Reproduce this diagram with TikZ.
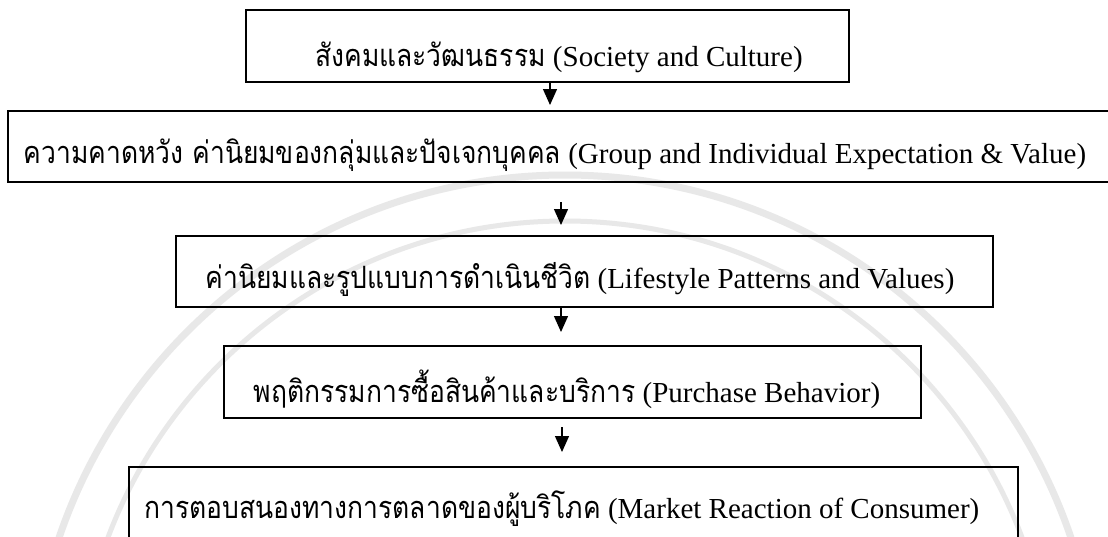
\documentclass[tikz,border=0pt]{standalone}
\usepackage{fontspec}
\setmainfont{Liberation Serif}
\newfontfamily\thaifont[Script=Thai,Scale=1.06,FakeStretch=0.86]{Loma}
\usetikzlibrary{arrows.meta}
\begin{document}
\begin{tikzpicture}[x=1pt,y=-1pt,
  box/.style={draw, line width=1.7pt, inner sep=0pt},
  lbl/.style={inner sep=0pt, anchor=base, font=\fontsize{29}{34}\selectfont},
  arr/.style={line width=1.3pt, -{Triangle[length=16pt,width=14pt]}},
  wmark/.style={draw=black!9, line width=7pt}]
\useasboundingbox (0,0) rectangle (1108,536);
\fill[white] (0,0) rectangle (1108,536);
\clip (0,0) rectangle (1108,536);
% faint watermark rings
\draw[wmark] (565,709) circle[radius=534];
\draw[wmark, line width=5pt] (565,709) circle[radius=488];
% boxes
\node[box, minimum width=603pt, minimum height=72pt] (b1) at (547.5,46) {};
\node[box, minimum width=1122pt, minimum height=71pt] (b2) at (569,146.5) {};
\node[box, minimum width=817pt, minimum height=71pt] (b3) at (584.5,271.5) {};
\node[box, minimum width=697pt, minimum height=72pt] (b4) at (572.5,382) {};
\node[box, minimum width=889pt, minimum height=78pt] (b5) at (573.5,506) {};
% labels
\node[lbl] (t1) at (559,66) {{\thaifont สังคมและวัฒนธรรม} (Society and Culture)};
\node[lbl] (t2) at (555,163) {{\thaifont ความคาดหวัง ค่านิยมของกลุ่มและปัจเจกบุคคล} (Group and Individual Expectation \& Value)};
\node[lbl] (t3) at (580,288) {{\thaifont ค่านิยมและรูปแบบการดำเนินชีวิต} (Lifestyle Patterns and Values)};
\node[lbl] (t4) at (567,402) {{\thaifont พฤติกรรมการซื้อสินค้าและบริการ} (Purchase Behavior)};
\node[lbl] (t5) at (562,518) {{\thaifont การตอบสนองทางการตลาดของผู้บริโภค} (Market Reaction of Consumer)};
% arrow ends
\coordinate (a1) at (550,105);
\coordinate (a2s) at (561,202);
\coordinate (a2) at (561,225);
\coordinate (a3) at (561,332);
\coordinate (a4s) at (562,427);
\coordinate (a4) at (562,452);
\draw[arr] (a1 |- b1.south) -- (a1);
\draw[arr] (a2s) -- (a2);
\draw[arr] (a3 |- b3.south) -- (a3);
\draw[arr] (a4s) -- (a4);
\end{tikzpicture}
\end{document}
